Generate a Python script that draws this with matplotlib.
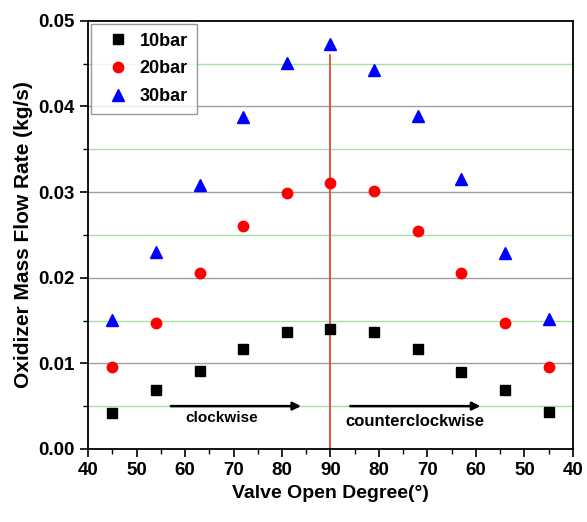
import matplotlib.pyplot as plt
import numpy as np

plt.rcParams['font.family'] = ['Liberation Sans', 'DejaVu Sans']
plt.rcParams['font.weight'] = 'bold'

# data: x position runs 40 -> 90 (clockwise) then back down to 40 (counterclockwise)
x_pos = [45, 54, 63, 72, 81, 90, 99, 108, 117, 126, 135]
flow_10bar = [0.0042, 0.0069, 0.0091, 0.0117, 0.0137, 0.0140,
              0.0137, 0.0117, 0.0090, 0.0069, 0.0043]
flow_20bar = [0.0096, 0.0147, 0.0206, 0.0260, 0.0299, 0.0311,
              0.0301, 0.0255, 0.0206, 0.0147, 0.0096]
flow_30bar = [0.0151, 0.0230, 0.0308, 0.0388, 0.0451, 0.0473,
              0.0443, 0.0389, 0.0315, 0.0229, 0.0152]

x_ticks = [40, 50, 60, 70, 80, 90, 100, 110, 120, 130, 140]
x_ticklabels = ['40', '50', '60', '70', '80', '90', '80', '70', '60', '50', '40']

fig = plt.figure(figsize=(5.87, 5.22), dpi=100)
ax = fig.add_axes([0.150, 0.140, 0.826, 0.820])

# horizontal grid: gray majors, light green minors
for v in [0.01, 0.02, 0.03, 0.04]:
    ax.axhline(v, color='#a0a0a0', lw=1.0, zorder=0)
for v in [0.005, 0.015, 0.025, 0.035, 0.045]:
    ax.axhline(v, color='#a8e0a8', lw=1.0, zorder=0)

# center line at 90 deg
ax.plot([90, 90], [0, 0.046], color='#e0483c', lw=1.3, zorder=1)

ax.plot(x_pos, flow_10bar, 's', color='black', ms=7, label='10bar', zorder=3)
ax.plot(x_pos, flow_20bar, 'o', color='#ff0000', ms=7.5, label='20bar', zorder=3)
ax.plot(x_pos, flow_30bar, '^', color='#0000ff', ms=8.5, label='30bar', zorder=3)

# direction arrows
ax.annotate('', xy=(84.5, 0.0050), xytext=(56.5, 0.0050),
            arrowprops=dict(arrowstyle='-|>', color='black', lw=1.8, mutation_scale=12))
ax.text(67.5, 0.0036, 'clockwise', ha='center', va='center', fontsize=11, fontweight='bold')
ax.annotate('', xy=(121.5, 0.0050), xytext=(93.5, 0.0050),
            arrowprops=dict(arrowstyle='-|>', color='black', lw=1.8, mutation_scale=12))
ax.text(107.5, 0.0032, 'counterclockwise', ha='center', va='center', fontsize=12,
        fontweight='bold')

ax.set_xlim(40, 140)
ax.set_ylim(0, 0.05)
ax.set_xticks(x_ticks)
ax.set_xticklabels(x_ticklabels)
ax.set_xticks(np.arange(45, 140, 10), minor=True)
ax.set_yticks([0.0, 0.01, 0.02, 0.03, 0.04, 0.05])
ax.set_yticklabels(['0.00', '0.01', '0.02', '0.03', '0.04', '0.05'])
ax.set_yticks([0.005, 0.015, 0.025, 0.035, 0.045], minor=True)
ax.tick_params(which='major', direction='out', length=6, width=1.2, labelsize=13.5)
ax.tick_params(which='minor', direction='out', length=3.5, width=1.0)
for lab in ax.get_xticklabels() + ax.get_yticklabels():
    lab.set_fontweight('bold')
for s in ax.spines.values():
    s.set_linewidth(1.3)

ax.set_xlabel('Valve Open Degree(°)', fontsize=14, fontweight='bold')
ax.set_ylabel('Oxidizer Mass Flow Rate (kg/s)', fontsize=15, fontweight='bold')

leg = ax.legend(loc='upper left', fontsize=13, frameon=True, fancybox=False,
                edgecolor='#808080', borderaxespad=0.15, handletextpad=0.2,
                labelspacing=0.6, borderpad=0.5)
for t in leg.get_texts():
    t.set_fontweight('bold')

fig.savefig('out.png', dpi=100)
